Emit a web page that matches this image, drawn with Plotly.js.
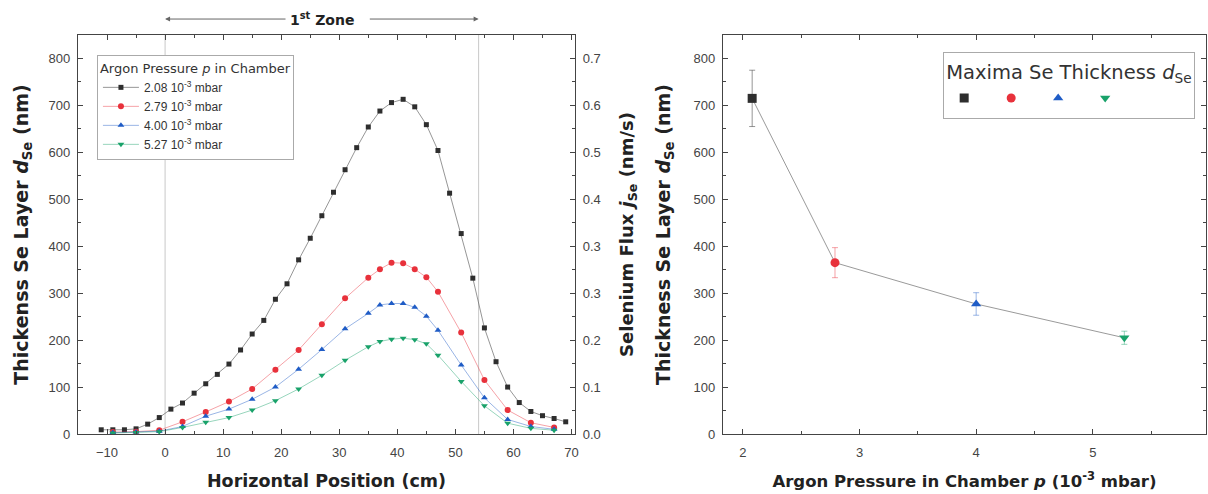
<!DOCTYPE html>
<html>
<head>
<meta charset="utf-8">
<script src="https://cdn.plot.ly/plotly-3.0.1.min.js"></script>
<style>
  html, body { margin: 0; padding: 0; background: #fff; }
  #chart { width: 1208px; height: 494px; }
</style>
</head>
<body>
<div id="chart"></div>
<script>
// ---------- DATA ----------
const seriesNames = ['2.08 10<sup>-3</sup> mbar', '2.79 10<sup>-3</sup> mbar', '4.00 10<sup>-3</sup> mbar', '5.27 10<sup>-3</sup> mbar'];

// Horizontal positions (cm)
const posBlack = [-11,-9,-7,-5,-3,-1,1,3,5,7,9,11,13,15,17,19,21,23,25,27,29,31,33,35,37,39,41,43,45,47,49,51,53,55,57,59,61,63,65,67,69];
const posColor = [-9,-5,-1,3,7,11,15,19,23,27,31,35,37,39,41,43,45,47,51,55,59,63,67];

// Thickness (nm)
const thick208 = [9,9,9,11,21,35,53,66,87,107,127,149,179,213,242,287,320,371,417,465,515,563,610,654,688,706,713,697,659,604,513,427,332,226,154,100,67,48,39,33,26];
const thick279 = [4,5,8,26,47,69,96,137,179,234,289,333,351,365,364,351,334,303,216,115,51,24,14];
const thick400 = [3,4,6,16,38,53,74,100,138,180,224,257,275,278,278,270,251,221,147,77,31,16,10];
const thick527 = [2,3,5,14,25,35,51,71,96,125,157,186,197,202,204,201,192,168,112,60,23,12,8];

// Zone boundaries (cm)
const zoneStart = 0;
const zoneEnd = 54;

// Right panel: maxima vs pressure
const pressures = [2.08, 2.79, 4.00, 5.27];
const maxima = [715, 365, 277, 205];
const maximaErr = [60, 32, 24, 14];

// Flux axis labels (right axis of left panel)
const fluxTickNm = [0,100,200,300,400,500,600,700,800];
const fluxTickText = ['0.0','0.1','0.2','0.3','0.3','0.4','0.5','0.6','0.7'];
const fluxPerNm = 0.7/800;

// ---------- STYLE ----------
const colors = ['#2e2e2e', '#e8313b', '#1f5cc6', '#19a26a'];
const lineColors = ['rgba(80,80,80,0.6)', 'rgba(232,49,59,0.45)', 'rgba(31,92,198,0.45)', 'rgba(25,162,106,0.45)'];
const symbols = ['square', 'circle', 'triangle-up', 'triangle-down'];
const sizesLeft = [5, 6, 6, 6];
const FONT = 'Liberation Sans, Arial, sans-serif';
const TFONT = 'DejaVu Sans, Liberation Sans, sans-serif';

const leftSeries = [
  {x: posBlack, y: thick208},
  {x: posColor, y: thick279},
  {x: posColor, y: thick400},
  {x: posColor, y: thick527}
];

const traces = [];
leftSeries.forEach((s, i) => {
  traces.push({
    type: 'scatter', mode: 'lines+markers',
    x: s.x, y: s.y, xaxis: 'x', yaxis: 'y',
    name: seriesNames[i],
    legend: 'legend',
    line: {color: lineColors[i], width: 1},
    marker: {symbol: symbols[i], size: sizesLeft[i], color: colors[i]}
  });
});
// dummy trace to activate flux axis
traces.push({
  type: 'scatter', mode: 'markers', x: [posBlack[0]], y: [0], xaxis: 'x', yaxis: 'y2',
  marker: {opacity: 0}, showlegend: false, hoverinfo: 'skip'
});

// right panel connecting line
traces.push({
  type: 'scatter', mode: 'lines', x: pressures, y: maxima, xaxis: 'x2', yaxis: 'y3',
  line: {color: '#9a9a9a', width: 1}, showlegend: false
});
pressures.forEach((p, i) => {
  traces.push({
    type: 'scatter', mode: 'markers', x: [p], y: [maxima[i]], xaxis: 'x2', yaxis: 'y3',
    name: ' ', legend: 'legend2',
    marker: {symbol: symbols[i], size: 9, color: colors[i]},
    error_y: {type: 'data', array: [maximaErr[i]], visible: true, color: lineColors[i], thickness: 1, width: 3}
  });
});

const tickFont = {family: FONT, size: 13, color: '#444'};
function tf(size) { return {family: TFONT, size: size, color: '#222', weight: 'bold'}; }

function baseAxis(extra) {
  return Object.assign({
    showgrid: false, zeroline: false, showline: true, linecolor: '#444', linewidth: 1.2,
    ticks: 'inside', ticklen: 5, tickcolor: '#444', tickwidth: 1,
    tickfont: tickFont, automargin: false
  }, extra);
}

const layout = {
  width: 1208, height: 494,
  margin: {l: 78, r: 2, t: 35, b: 60, autoexpand: false},
  paper_bgcolor: '#fff', plot_bgcolor: '#fff',
  font: {family: FONT, color: '#222'},
  xaxis: baseAxis({
    domain: [0, 0.4406], range: [-15, 70.6], anchor: 'y',
    dtick: 10, tick0: 0, mirror: 'ticks',
    minor: {dtick: 5, ticklen: 3, ticks: 'inside', tickcolor: '#444'},
    ticklabelstandoff: 6,
    title: {text: '<b>Horizontal Position (cm)</b>', font: tf(17.5), standoff: 16}
  }),
  yaxis: baseAxis({
    domain: [0, 1], range: [0, 850], anchor: 'x',
    dtick: 100, tick0: 0,
    minor: {dtick: 50, ticklen: 3, ticks: 'inside', tickcolor: '#444'},
    ticklabelstandoff: 4,
    title: {text: '<b>Thickenss Se Layer <i>d</i><sub>Se</sub> (nm)</b>', font: tf(19), standoff: 14}
  }),
  yaxis2: baseAxis({
    overlaying: 'y', side: 'right', anchor: 'x',
    range: [0, 850 * fluxPerNm],
    tickmode: 'array', tickvals: fluxTickNm.map(v => v * fluxPerNm), ticktext: fluxTickText,
    minor: {tickvals: [50,150,250,350,450,550,650,750].map(v => v * fluxPerNm), ticklen: 3, ticks: 'inside', tickcolor: '#444'},
    ticklabelstandoff: 4,
    title: {text: '<b>Selenium Flux <i>j</i><sub>Se</sub> (nm/s)</b>', font: tf(18), standoff: 20}
  }),
  xaxis2: baseAxis({
    domain: [0.5718, 1.0], range: [1.83, 5.97], anchor: 'y3',
    dtick: 1, tick0: 0, mirror: 'ticks',
    minor: {dtick: 0.5, ticklen: 3, ticks: 'inside', tickcolor: '#444'},
    ticklabelstandoff: 6,
    title: {text: '<b>Argon Pressure in Chamber <i>p</i> (10<sup>-3</sup> mbar)</b>', font: tf(16.5), standoff: 16}
  }),
  yaxis3: baseAxis({
    domain: [0, 1], range: [0, 850], anchor: 'x2',
    dtick: 100, tick0: 0, mirror: 'ticks',
    minor: {dtick: 50, ticklen: 3, ticks: 'inside', tickcolor: '#444'},
    ticklabelstandoff: 4,
    title: {text: '<b>Thickness Se Layer <i>d</i><sub>Se</sub> (nm)</b>', font: tf(19), standoff: 17}
  }),
  legend: {
    x: 0.0168, y: 0.95, xanchor: 'left', yanchor: 'top', xref: 'paper', yref: 'paper',
    bgcolor: '#fff', bordercolor: '#aaa', borderwidth: 1,
    font: {family: FONT, size: 12, color: '#333'},
    title: {text: 'Argon Pressure <i>p</i> in Chamber', font: {family: TFONT, size: 13, color: '#333'}},
    itemwidth: 36, tracegroupgap: 0
  },
  legend2: {
    x: 0.767, y: 0.957, xanchor: 'left', yanchor: 'top', xref: 'paper', yref: 'paper',
    orientation: 'h',
    bgcolor: '#fff', bordercolor: '#aaa', borderwidth: 1,
    font: {family: FONT, size: 20, color: '#333'},
    title: {text: 'Maxima Se Thickness <i>d</i><sub>Se</sub>', side: 'top', font: {family: TFONT, size: 19.5, color: '#333'}},
    entrywidth: 2, entrywidthmode: 'pixels', itemwidth: 30
  },
  shapes: [
    {type: 'line', xref: 'x', yref: 'paper', x0: zoneStart, x1: zoneStart, y0: 0, y1: 1, line: {color: '#c8c8c8', width: 1}, layer: 'below'},
    {type: 'line', xref: 'x', yref: 'paper', x0: zoneEnd, x1: zoneEnd, y0: 0, y1: 1, line: {color: '#c8c8c8', width: 1}, layer: 'below'}
  ],
  annotations: [
    {xref: 'x', yref: 'paper', x: (zoneStart + zoneEnd) / 2, y: 1.04, text: '<b>1<sup>st</sup> Zone</b>', showarrow: false,
     font: {family: TFONT, size: 14, color: '#222'}, yanchor: 'middle'},
    {xref: 'x', yref: 'paper', x: zoneStart, y: 1.04, axref: 'x', ax: 21, ayref: 'pixel', ay: 0, text: '', showarrow: true,
     arrowhead: 2, arrowsize: 1, arrowwidth: 1, arrowcolor: '#666'},
    {xref: 'x', yref: 'paper', x: zoneEnd, y: 1.04, axref: 'x', ax: 35, ayref: 'pixel', ay: 0, text: '', showarrow: true,
     arrowhead: 2, arrowsize: 1, arrowwidth: 1, arrowcolor: '#666'}
  ],
  showlegend: true
};

Plotly.newPlot('chart', traces, layout, {displayModeBar: false, staticPlot: true});
</script>
</body>
</html>
